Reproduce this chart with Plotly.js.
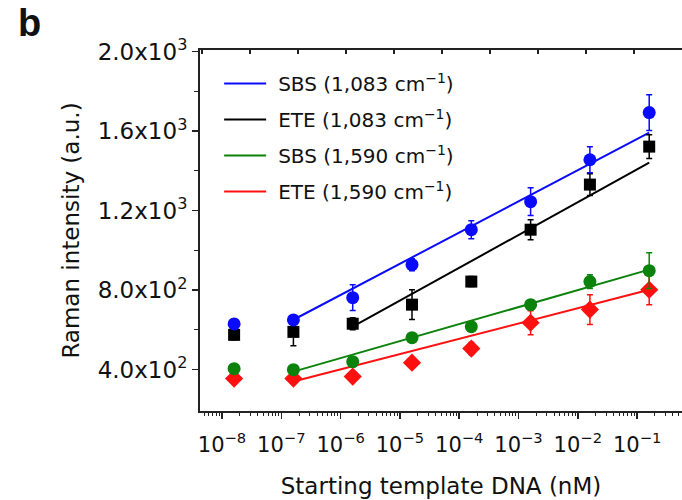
<!DOCTYPE html>
<html>
<head>
<meta charset="utf-8">
<script src="https://cdn.plot.ly/plotly-3.0.1.min.js"></script>
<style>
  html, body { margin: 0; padding: 0; background: #ffffff; }
  #chart { width: 682px; height: 500px; }
</style>
</head>
<body>
<div id="chart"></div>
<script>
// Starting template DNA concentration (nM)
const concentration = [1.6e-8, 1.6e-7, 1.6e-6, 1.6e-5, 1.6e-4, 1.6e-3, 1.6e-2, 1.6e-1];

// Raman intensity (a.u.) with error bars
const sbs1083 = [630, 650, 762, 928, 1104, 1245, 1456, 1693];
const sbs1083Err = [22, 22, 65, 30, 45, 70, 65, 90];
const ete1083 = [575, 590, 631, 727, 843, 1104, 1331, 1522];
const ete1083Err = [25, 70, 30, 75, 25, 50, 55, 60];
const sbs1590 = [405, 400, 440, 561, 616, 727, 843, 898];
const sbs1590Err = [25, 25, 25, 20, 20, 25, 35, 90];
const ete1590 = [355, 355, 365, 435, 506, 636, 702, 802];
const ete1590Err = [20, 20, 20, 25, 30, 60, 75, 75];

// Linear fits (endpoints on the log concentration axis)
const sbs1083FitX = [1.6e-7, 1.6e-1];
const sbs1083FitY = [651, 1592];
const ete1083FitX = [1.6e-6, 1.6e-1];
const ete1083FitY = [616, 1441];
const sbs1590FitX = [1.6e-7, 1.6e-1];
const sbs1590FitY = [390, 903];
const ete1590FitX = [1.6e-7, 1.6e-1];
const ete1590FitY = [340, 802];

// Legend names and axis tick labels
const seriesNames = [
  'SBS (1,083 cm<sup>−1</sup>)',
  'ETE (1,083 cm<sup>−1</sup>)',
  'SBS (1,590 cm<sup>−1</sup>)',
  'ETE (1,590 cm<sup>−1</sup>)'
];
const xTickVals = [1e-8, 1e-7, 1e-6, 1e-5, 1e-4, 1e-3, 1e-2, 1e-1];
const xTickText = ['10<sup>−8</sup>', '10<sup>−7</sup>', '10<sup>−6</sup>', '10<sup>−5</sup>',
                   '10<sup>−4</sup>', '10<sup>−3</sup>', '10<sup>−2</sup>', '10<sup>−1</sup>'];
const yTickVals = [400, 800, 1200, 1600, 2000];
const yTickText = ['4.0x10<sup>2</sup>', '8.0x10<sup>2</sup>', '1.2x10<sup>3</sup>',
                   '1.6x10<sup>3</sup>', '2.0x10<sup>3</sup>'];
const yMinorVals = [600, 1000, 1400, 1800];

const BLUE = '#0a0aff', BLACK = '#000000', GREEN = '#0b820b', RED = '#ff1010';
const FONT = 'DejaVu Sans, Arial, sans-serif';

function fitLine(x, y, name, color, group) {
  return { x: x, y: y, type: 'scatter', mode: 'lines', name: name, legendgroup: group,
           line: { color: color, width: 2 }, hoverinfo: 'skip' };
}
function points(y, err, color, symbol, size, group) {
  return { x: concentration, y: y, type: 'scatter', mode: 'markers', legendgroup: group,
           showlegend: false,
           marker: { color: color, symbol: symbol, size: size },
           error_y: { type: 'data', array: err, visible: true, color: color, thickness: 1.5, width: 3 } };
}

const traces = [
  fitLine(sbs1083FitX, sbs1083FitY, seriesNames[0], BLUE, 'g1'),
  fitLine(ete1083FitX, ete1083FitY, seriesNames[1], BLACK, 'g2'),
  fitLine(sbs1590FitX, sbs1590FitY, seriesNames[2], GREEN, 'g3'),
  fitLine(ete1590FitX, ete1590FitY, seriesNames[3], RED, 'g4'),
  points(ete1590, ete1590Err, RED, 'diamond', 14, 'g4'),
  points(sbs1590, sbs1590Err, GREEN, 'circle', 13, 'g3'),
  points(ete1083, ete1083Err, BLACK, 'square', 12, 'g2'),
  points(sbs1083, sbs1083Err, BLUE, 'circle', 13, 'g1'),
  // carries the top frame axis
  { x: [], y: [], xaxis: 'x2', type: 'scatter', mode: 'markers', showlegend: false, hoverinfo: 'skip' }
];

const layout = {
  width: 682,
  height: 500,
  margin: { l: 200, r: 0, t: 50, b: 89 },
  paper_bgcolor: '#ffffff',
  plot_bgcolor: '#ffffff',
  font: { family: FONT, color: '#111111' },
  showlegend: true,
  legend: {
    x: 0.048, y: 0.961, xanchor: 'left', yanchor: 'top',
    bgcolor: 'rgba(0,0,0,0)', borderwidth: 0,
    font: { family: FONT, size: 20, color: '#111111' },
    traceorder: 'grouped', tracegroupgap: 7, itemwidth: 45
  },
  xaxis: {
    type: 'log',
    range: [-8.371, -0.243],
    tickmode: 'array', tickvals: xTickVals, ticktext: xTickText,
    ticks: 'outside', ticklen: 6, tickwidth: 1.5, tickcolor: '#222222',
    minor: { ticks: 'outside', ticklen: 3, tickwidth: 1, tickcolor: '#222222', dtick: 'D1' },
    showline: true, linewidth: 2, linecolor: '#222222',
    showgrid: false, zeroline: false,
    tickfont: { family: FONT, size: 21 },
    ticklabelstandoff: 8,
    title: { text: 'Starting template DNA (nM)', font: { family: FONT, size: 23 }, standoff: 22 }
  },
  xaxis2: {
    overlaying: 'x', side: 'top', anchor: 'y',
    range: [-1.04, 9.0], tick0: 0, dtick: 1,
    ticks: 'inside', ticklen: 4, tickwidth: 1.5, tickcolor: '#222222',
    showticklabels: false, showline: true, linewidth: 2, linecolor: '#222222',
    showgrid: false, zeroline: false
  },
  yaxis: {
    range: [192, 2008],
    tickmode: 'array', tickvals: yTickVals, ticktext: yTickText,
    ticks: 'outside', ticklen: 6, tickwidth: 1.5, tickcolor: '#222222',
    minor: { tickmode: 'array', tickvals: yMinorVals, ticks: 'outside', ticklen: 4, tickwidth: 1, tickcolor: '#222222' },
    showline: true, linewidth: 2, linecolor: '#222222',
    showgrid: false, zeroline: false,
    tickfont: { family: FONT, size: 23 },
    title: { text: 'Raman intensity (a.u.)', font: { family: FONT, size: 23 }, standoff: 12 }
  },
  annotations: [{
    text: '<b>b</b>', xref: 'paper', yref: 'paper',
    x: -0.379, y: 1.136, xanchor: 'left', yanchor: 'top', showarrow: false,
    borderpad: 0,
    font: { family: 'Liberation Sans, Arial, sans-serif', size: 38, color: '#111111' }
  }]
};

Plotly.newPlot('chart', traces, layout, { displayModeBar: false, staticPlot: true }).then(function (gd) {
  // longer legend line samples, ending a short gap before the label text
  gd.querySelectorAll('.legend .legendlines path').forEach(function (p) {
    p.setAttribute('d', 'M1,0h42');
  });
});
</script>
</body>
</html>
